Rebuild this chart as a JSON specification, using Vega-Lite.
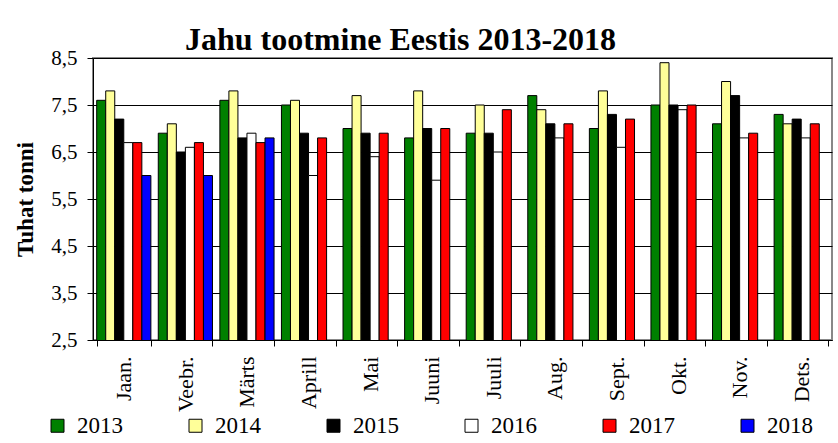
{
  "$schema": "https://vega.github.io/schema/vega-lite/v6.json",
  "autosize": {"type": "none"},
  "width": 739,
  "height": 282,
  "padding": {"left": 93, "top": 58, "right": 6, "bottom": 103},
  "background": "white",
  "title": {
    "text": "Jahu tootmine Eestis 2013-2018",
    "font": "Liberation Serif",
    "fontSize": 32,
    "fontWeight": "bold",
    "color": "black",
    "anchor": "middle",
    "dx": -62,
    "offset": -10
  },
  "config": {
    "view": {"stroke": "#888888", "strokeWidth": 2},
    "font": "Liberation Serif",
    "axis": {"labelFont": "Liberation Serif", "titleFont": "Liberation Serif"},
    "legend": {"labelFont": "Liberation Serif"}
  },
  "data": {
    "values": [
      {"month": "Jaan.", "year": "2013", "value": 7.6},
      {"month": "Jaan.", "year": "2014", "value": 7.8},
      {"month": "Jaan.", "year": "2015", "value": 7.2},
      {"month": "Jaan.", "year": "2016", "value": 6.7},
      {"month": "Jaan.", "year": "2017", "value": 6.7},
      {"month": "Jaan.", "year": "2018", "value": 6.0},
      {"month": "Veebr.", "year": "2013", "value": 6.9},
      {"month": "Veebr.", "year": "2014", "value": 7.1},
      {"month": "Veebr.", "year": "2015", "value": 6.5},
      {"month": "Veebr.", "year": "2016", "value": 6.6},
      {"month": "Veebr.", "year": "2017", "value": 6.7},
      {"month": "Veebr.", "year": "2018", "value": 6.0},
      {"month": "Märts", "year": "2013", "value": 7.6},
      {"month": "Märts", "year": "2014", "value": 7.8},
      {"month": "Märts", "year": "2015", "value": 6.8},
      {"month": "Märts", "year": "2016", "value": 6.9},
      {"month": "Märts", "year": "2017", "value": 6.7},
      {"month": "Märts", "year": "2018", "value": 6.8},
      {"month": "Aprill", "year": "2013", "value": 7.5},
      {"month": "Aprill", "year": "2014", "value": 7.6},
      {"month": "Aprill", "year": "2015", "value": 6.9},
      {"month": "Aprill", "year": "2016", "value": 6.0},
      {"month": "Aprill", "year": "2017", "value": 6.8},
      {"month": "Mai", "year": "2013", "value": 7.0},
      {"month": "Mai", "year": "2014", "value": 7.7},
      {"month": "Mai", "year": "2015", "value": 6.9},
      {"month": "Mai", "year": "2016", "value": 6.4},
      {"month": "Mai", "year": "2017", "value": 6.9},
      {"month": "Juuni", "year": "2013", "value": 6.8},
      {"month": "Juuni", "year": "2014", "value": 7.8},
      {"month": "Juuni", "year": "2015", "value": 7.0},
      {"month": "Juuni", "year": "2016", "value": 5.9},
      {"month": "Juuni", "year": "2017", "value": 7.0},
      {"month": "Juuli", "year": "2013", "value": 6.9},
      {"month": "Juuli", "year": "2014", "value": 7.5},
      {"month": "Juuli", "year": "2015", "value": 6.9},
      {"month": "Juuli", "year": "2016", "value": 6.5},
      {"month": "Juuli", "year": "2017", "value": 7.4},
      {"month": "Aug.", "year": "2013", "value": 7.7},
      {"month": "Aug.", "year": "2014", "value": 7.4},
      {"month": "Aug.", "year": "2015", "value": 7.1},
      {"month": "Aug.", "year": "2016", "value": 6.8},
      {"month": "Aug.", "year": "2017", "value": 7.1},
      {"month": "Sept.", "year": "2013", "value": 7.0},
      {"month": "Sept.", "year": "2014", "value": 7.8},
      {"month": "Sept.", "year": "2015", "value": 7.3},
      {"month": "Sept.", "year": "2016", "value": 6.6},
      {"month": "Sept.", "year": "2017", "value": 7.2},
      {"month": "Okt.", "year": "2013", "value": 7.5},
      {"month": "Okt.", "year": "2014", "value": 8.4},
      {"month": "Okt.", "year": "2015", "value": 7.5},
      {"month": "Okt.", "year": "2016", "value": 7.4},
      {"month": "Okt.", "year": "2017", "value": 7.5},
      {"month": "Nov.", "year": "2013", "value": 7.1},
      {"month": "Nov.", "year": "2014", "value": 8.0},
      {"month": "Nov.", "year": "2015", "value": 7.7},
      {"month": "Nov.", "year": "2016", "value": 6.8},
      {"month": "Nov.", "year": "2017", "value": 6.9},
      {"month": "Dets.", "year": "2013", "value": 7.3},
      {"month": "Dets.", "year": "2014", "value": 7.1},
      {"month": "Dets.", "year": "2015", "value": 7.2},
      {"month": "Dets.", "year": "2016", "value": 6.8},
      {"month": "Dets.", "year": "2017", "value": 7.1}
    ]
  },
  "mark": {"type": "bar", "stroke": "black", "strokeWidth": 1, "clip": true},
  "encoding": {
    "x": {
      "field": "month",
      "type": "nominal",
      "sort": null,
      "scale": {"paddingInner": 0.12, "paddingOuter": 0.06},
      "axis": {
        "title": null,
        "labelAngle": -90,
        "labelFont": "Liberation Serif",
        "labelFontSize": 22,
        "labelColor": "black",
        "labelPadding": 10,
        "tickBand": "extent",
        "tickColor": "black",
        "tickSize": 6,
        "domainColor": "black",
        "domainWidth": 1
      }
    },
    "xOffset": {
      "field": "year",
      "type": "nominal",
      "scale": {"domain": ["2013", "2014", "2015", "2016", "2017", "2018"], "paddingInner": 0, "paddingOuter": 0}
    },
    "y": {
      "field": "value",
      "type": "quantitative",
      "scale": {"domain": [2.5, 8.5], "nice": false, "zero": false},
      "axis": {
        "title": "Tuhat tonni",
        "titleFont": "Liberation Serif",
        "titleFontSize": 23,
        "titleFontWeight": "bold",
        "titleColor": "black",
        "titlePadding": 13,
        "values": [2.5, 3.5, 4.5, 5.5, 6.5, 7.5, 8.5],
        "labelExpr": "replace(format(datum.value, '.1f'), '.', ',')",
        "labelFont": "Liberation Serif",
        "labelFontSize": 21,
        "labelColor": "black",
        "labelPadding": 10,
        "tickColor": "black",
        "tickSize": 6,
        "domainColor": "black",
        "domainWidth": 1,
        "grid": true,
        "gridColor": "black",
        "gridWidth": 1,
        "gridOpacity": 1
      }
    },
    "color": {
      "field": "year",
      "type": "nominal",
      "scale": {
        "domain": ["2013", "2014", "2015", "2016", "2017", "2018"],
        "range": ["#008000", "#FFFF99", "#000000", "#FFFFFF", "#FF0000", "#0000FF"]
      },
      "legend": {
        "title": null,
        "orient": "none",
        "direction": "horizontal",
        "legendX": -47,
        "legendY": 356,
        "symbolType": "square",
        "symbolSize": 169,
        "symbolStrokeColor": "black",
        "symbolStrokeWidth": 1,
        "symbolOpacity": 1,
        "labelFont": "Liberation Serif",
        "labelFontSize": 23,
        "labelColor": "black",
        "labelOffset": 8,
        "columnPadding": 61
      }
    }
  }
}
